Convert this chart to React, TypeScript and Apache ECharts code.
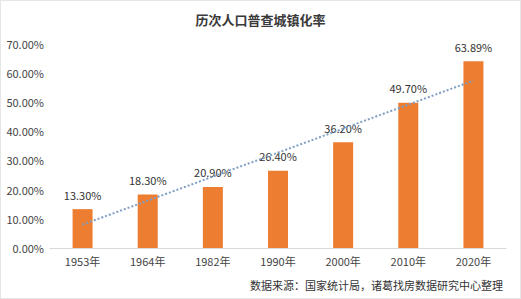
import React, { useEffect, useRef } from "react";
import * as echarts from "echarts";

const title = "历次人口普查城镇化率";
const source = "数据来源：国家统计局，诸葛找房数据研究中心整理";
const categories = ["1953年", "1964年", "1982年", "1990年", "2000年", "2010年", "2020年"];
const rates = [13.3, 18.3, 20.9, 26.4, 36.2, 49.7, 63.89];
// dotted trend line end points (first and last category)
const trendEnds = [8.0, 57.3];
const yMax = 70;
const yStep = 10;

const FONT = "'Noto Sans CJK SC', 'Noto Sans', sans-serif";

export default function App() {
  const ref = useRef<HTMLDivElement>(null);
  useEffect(() => {
    document.body.style.margin = "0";
    if (!ref.current) return;
    const chart = echarts.init(ref.current, undefined, { renderer: "svg" });
    chart.setOption({
      animation: false,
      backgroundColor: "#ffffff",
      title: {
        text: title,
        left: "center",
        top: 7,
        textStyle: { fontFamily: FONT, fontSize: 13, fontWeight: "bold", color: "#3a3a3a" },
      },
      graphic: [
        {
          type: "text",
          right: 17,
          top: 278,
          style: { text: source, font: `11px ${FONT}`, fill: "#333" },
        },
      ],
      grid: { left: 49, right: 14, top: 42.5, bottom: 50 },
      xAxis: {
        type: "category",
        data: categories,
        axisLine: { lineStyle: { color: "#d9d9d9", width: 1 } },
        axisTick: { show: false },
        axisLabel: { fontFamily: FONT, fontSize: 11, color: "#444", margin: 7 },
      },
      yAxis: {
        type: "value",
        min: 0,
        max: yMax,
        interval: yStep,
        splitLine: { show: false },
        axisLine: { show: false },
        axisTick: { show: false },
        axisLabel: {
          fontFamily: FONT,
          fontSize: 11,
          color: "#444",
          margin: 6,
          formatter: (v: number) => v.toFixed(2) + "%",
        },
      },
      series: [
        {
          type: "bar",
          data: rates,
          barWidth: 20,
          itemStyle: { color: "#ED7D31" },
          label: {
            show: true,
            position: "top",
            distance: 9,
            fontFamily: FONT,
            fontSize: 11,
            color: "#333",
            formatter: (p: any) => Number(p.value).toFixed(2) + "%",
          },
          markLine: {
            silent: true,
            symbol: ["none", "none"],
            label: { show: false },
            lineStyle: { color: "#7f9fc4", type: "dotted", width: 2 },
            data: [
              [
                { coord: [0, trendEnds[0]] },
                { coord: [categories.length - 1, trendEnds[1]] },
              ],
            ],
          },
        },
      ],
    });
    return () => chart.dispose();
  }, []);
  return (
    <div
      ref={ref}
      style={{ width: 521, height: 299, boxSizing: "border-box", border: "1px solid #e6e6e6" }}
    />
  );
}
